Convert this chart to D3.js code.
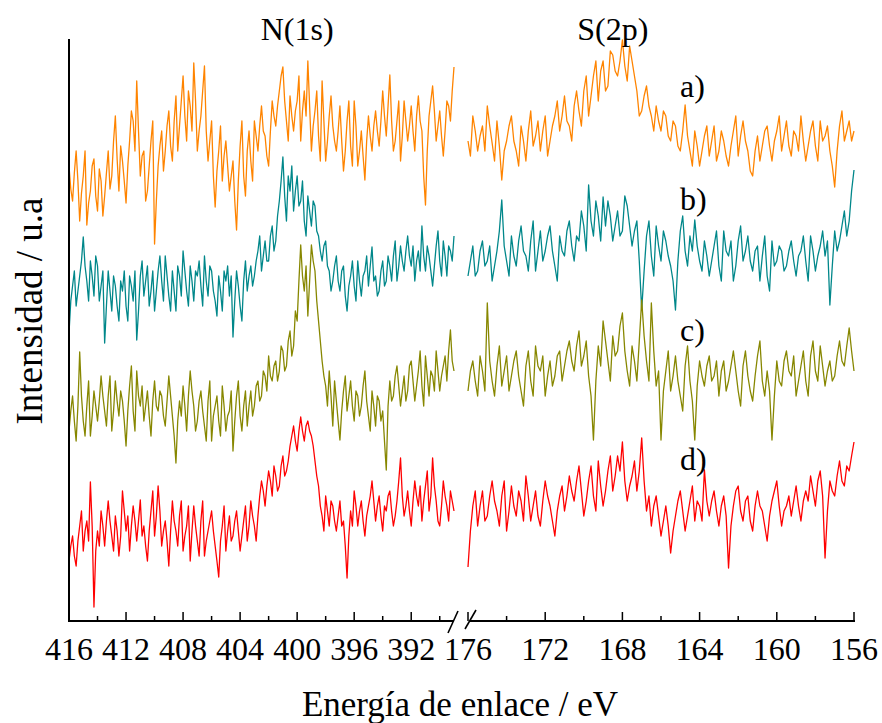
<!DOCTYPE html>
<html><head><meta charset="utf-8"><script src="https://cdn.jsdelivr.net/npm/d3@7"></script></head>
<body style="margin:0;background:#fff">
<svg id="chart" width="882" height="723" style="display:block"></svg>
<script>
// ---- energy ranges (eV) covered by the two panels ----
const leftRange = [416, 389];
const rightRange = [176, 156];

// ---- tick labels ----
const leftMajor = [416, 412, 408, 404, 400, 396, 392];
const leftMinor = [414, 410, 406, 402, 398, 394, 390];
const rightMajor = [176, 172, 168, 164, 160, 156];
const rightMinor = [174, 170, 166, 162, 158];

// ---- labels ----
const seriesLabels = ["a)", "b)", "c)", "d)"];
const peakLabels = ["N(1s)", "S(2p)"];

// ---- intensities (stacked, arbitrary units) : N(1s) region, 416 -> 389 eV ----
const aN = [455,432,420,448,470,440,400,428,445,470,396,418,430,455,462,425,410,452,440,405,
  425,448,470,432,445,480,505,462,430,475,460,440,418,455,480,510,500,470,540,490,445,465,470,420,
  430,455,480,500,377,420,455,475,490,450,470,495,510,475,460,500,525,470,495,520,545,505,480,530,
  515,490,558,520,470,490,505,530,555,490,460,480,500,445,414,450,470,495,440,465,480,455,430,445,
  460,420,391,440,475,500,445,425,470,490,460,440,500,485,470,495,515,490,485,465,455,490,520,505,
  495,515,530,545,554,520,500,480,525,505,490,510,520,545,480,510,530,505,560,515,470,495,510,530,
  485,460,540,500,460,480,505,525,495,480,470,490,515,480,450,470,500,520,475,455,520,495,455,470,
  490,465,441,480,505,485,470,495,510,490,475,500,530,505,485,515,546,500,470,480,500,520,460,485,
  520,500,480,495,515,490,470,505,525,500,490,445,416,470,505,520,535,510,480,495,510,485,465,490,
  520,515,500,530,554];
const bN = [288,320,335,350,315,330,345,360,384,355,340,320,360,345,325,365,355,320,335,350,278,315,
  350,330,310,345,335,315,300,340,330,350,315,300,345,335,320,350,281,310,345,360,325,340,355,315,
  330,350,310,330,350,365,340,320,365,345,325,310,350,330,310,355,345,325,370,350,330,315,355,340,
  320,350,345,360,335,315,365,340,325,355,350,330,320,305,345,330,310,350,340,355,325,345,284,320,
  350,335,315,300,340,360,330,345,355,335,345,360,370,385,350,365,380,360,360,385,395,370,380,405,
  420,440,464,425,400,445,430,455,410,430,445,415,420,440,400,385,425,410,395,420,415,390,385,370,
  360,375,380,355,350,330,340,355,365,340,330,350,355,325,310,335,345,360,335,320,360,340,325,345,
  350,365,335,355,374,340,345,325,330,350,360,335,340,365,355,340,365,380,340,355,375,360,350,370,
  385,365,355,375,340,360,370,350,395,365,350,375,365,350,335,355,375,390,360,345,380,365,345,375,
  370,360,385];
const cN = [190,210,225,200,180,215,269,225,200,185,215,240,185,205,230,215,200,220,245,225,210,195,
  225,245,190,210,240,220,205,230,220,200,175,210,235,255,210,190,250,225,215,235,200,215,230,205,
  185,220,240,215,210,230,225,205,195,220,245,225,205,185,158,200,220,205,235,215,190,225,250,230,
  215,190,200,220,230,210,195,180,220,240,180,205,215,225,200,185,235,215,190,205,210,230,170,200,
  225,240,205,190,215,230,195,215,230,205,215,235,240,220,225,250,245,230,265,245,240,255,260,240,
  250,275,270,250,255,280,290,265,275,310,300,340,376,345,330,355,305,340,376,360,350,320,300,280,
  260,245,235,215,250,225,195,240,220,200,181,210,230,245,210,225,240,215,200,230,225,205,215,235,
  250,220,205,190,230,215,195,225,220,200,210,180,151,215,240,220,225,245,255,235,215,230,245,220,
  230,255,260,240,220,235,250,270,235,215,265,245,225,250,245,230,270,250,230,245,255,265,240,270,
  291,260,250];
const dN = [60,75,85,65,55,80,95,110,70,90,100,80,139,95,14,70,90,75,110,95,75,100,120,100,85,70,
  105,90,65,85,130,110,90,105,70,95,115,100,80,100,121,85,95,75,60,90,110,130,85,105,135,110,75,90,
  100,80,55,90,120,100,90,75,105,120,70,85,95,115,60,90,115,95,80,65,100,120,65,80,90,100,110,90,
  75,60,44,80,95,115,70,90,105,80,85,100,110,90,70,85,100,115,80,95,120,105,95,80,105,125,140,130,
  115,135,150,140,125,155,145,130,135,155,165,145,150,160,175,185,195,180,170,190,204,190,180,195,
  200,190,185,175,160,145,135,115,105,90,125,110,95,120,115,100,90,105,120,95,100,75,43,85,110,95,
  130,115,95,110,120,100,85,105,115,125,140,120,100,115,125,105,90,115,110,125,130,110,95,105,120,
  140,163,125,105,115,130,110,95,120,140,125,115,135,100,120,135,150,110,125,163,135,120,100,95,115,
  140,125,115,100,130,120,110];

// ---- intensities : S(2p) region, 176 -> 156 eV ----
const aS = [480,465,505,490,470,485,495,470,515,495,478,460,500,475,441,470,480,495,505,480,470,455,
  495,480,460,490,510,475,485,500,470,490,505,465,480,495,505,520,490,505,525,500,495,480,515,530,
  510,495,530,545,505,525,545,560,520,550,560,530,535,570,566,550,545,560,581,555,540,575,560,545,
  530,505,510,525,535,515,505,490,515,500,490,510,505,485,480,500,495,475,470,490,516,485,470,455,
  490,475,455,470,485,495,465,480,495,460,470,490,480,465,455,475,490,505,465,485,500,480,470,450,
  445,470,485,460,475,490,495,475,460,480,490,505,470,485,500,475,465,490,485,470,505,480,460,475,
  490,500,475,460,500,480,485,495,470,455,434,470,495,510,480,490,500,480,490];
const bS = [345,360,375,345,350,370,380,355,360,375,340,355,370,390,421,375,360,345,385,365,355,380,
  395,370,365,350,380,400,350,370,390,360,370,385,395,370,355,340,385,370,365,390,400,375,360,385,
  380,410,395,370,436,400,385,420,405,380,424,395,420,405,380,395,410,385,390,425,415,395,375,390,
  400,360,311,350,385,400,365,345,395,375,360,390,380,365,355,340,311,360,390,405,370,355,385,370,
  401,375,360,350,380,365,345,360,375,390,355,340,390,370,365,380,340,355,380,395,360,370,385,360,
  350,370,375,340,365,385,345,330,380,355,360,375,370,350,355,370,380,360,345,365,370,385,360,340,
  385,370,350,365,375,390,365,380,316,355,390,370,380,395,410,385,400,430,451];
const cS = [230,250,260,240,225,265,250,230,318,260,240,225,255,275,235,250,265,230,245,260,270,245,
  230,215,255,270,240,225,275,255,250,265,225,245,260,235,245,265,270,240,255,270,280,260,250,275,
  290,255,265,280,245,225,181,240,275,255,300,280,260,240,285,265,270,295,308,270,250,235,275,260,
  240,280,321,285,260,240,318,270,235,250,181,230,250,270,230,245,265,240,225,210,255,275,240,220,
  181,235,260,245,235,255,265,240,245,260,225,250,260,230,240,255,270,250,230,215,255,270,245,230,
  220,245,265,280,240,225,250,230,181,225,260,240,235,260,270,250,245,265,225,240,255,270,240,225,
  265,280,250,240,275,255,235,250,260,240,245,265,280,260,255,275,293,270,250];
const dS = [54,90,115,130,95,115,130,100,105,125,140,120,110,95,125,140,90,110,135,115,105,130,120,
  100,145,125,100,115,130,105,95,120,140,125,115,100,85,110,125,135,110,125,145,130,120,140,155,130,
  105,120,140,155,125,110,160,135,115,130,150,165,130,145,165,150,179,140,120,135,145,160,130,150,
  183,140,110,125,95,115,125,105,85,100,115,95,68,90,105,120,130,110,90,105,120,135,100,120,115,100,
  151,120,105,120,130,110,95,115,125,105,53,95,115,130,135,110,100,120,125,100,90,115,130,115,110,95,
  80,105,120,130,140,115,95,110,115,125,105,120,135,115,100,120,130,120,145,130,115,140,150,125,63,
  110,140,130,125,145,160,140,135,155,150,165,179];

const colors = ["#FF8400", "#00878A", "#878700", "#FF0000"];

const seriesN = [aN, bN, cN, dN];
const seriesS = [aS, bS, cS, dS];
function grid(range, n) {
  const sc = d3.scaleLinear().domain([0, n - 1]).range(range);
  return d3.range(n).map(sc);
}

const svg = d3.select("#chart");

const yScale = d3.scaleLinear().domain([0, 582]).range([621, 39]);
const xL = d3.scaleLinear().domain(leftRange).range([69, 454]);
const xR = d3.scaleLinear().domain(rightRange).range([468, 854]);

const lineL = d3.line().x(d => xL(d[0])).y(d => yScale(d[1]));
const lineR = d3.line().x(d => xR(d[0])).y(d => yScale(d[1]));

const gData = svg.append("g");
seriesN.forEach((s, k) => {
  const E = grid(leftRange, s.length);
  gData.append("path")
    .datum(s.map((v, i) => [E[i], v]))
    .attr("d", lineL).attr("fill", "none")
    .attr("stroke", colors[k]).attr("stroke-width", 1.3)
    .attr("stroke-linejoin", "round");
});
seriesS.forEach((s, k) => {
  const E = grid(rightRange, s.length);
  gData.append("path")
    .datum(s.map((v, i) => [E[i], v]))
    .attr("d", lineR).attr("fill", "none")
    .attr("stroke", colors[k]).attr("stroke-width", 1.3)
    .attr("stroke-linejoin", "round");
});

// ---- axes ----
const axisY = 621;
const gAx = svg.append("g").attr("stroke", "#000").attr("stroke-width", 2);
gAx.append("line").attr("x1", 69).attr("x2", 69).attr("y1", 39).attr("y2", axisY + 1);
gAx.append("line").attr("x1", 68).attr("x2", 454).attr("y1", axisY).attr("y2", axisY);
gAx.append("line").attr("x1", 470).attr("x2", 855).attr("y1", axisY).attr("y2", axisY);
gAx.append("line").attr("x1", 448).attr("y1", 633).attr("x2", 458).attr("y2", 611).attr("stroke-width", 1.6);
gAx.append("line").attr("x1", 465).attr("y1", 629).attr("x2", 476).attr("y2", 610).attr("stroke-width", 1.6);

function addText(x, y, size, str, anchor) {
  return svg.append("text").attr("x", x).attr("y", y)
    .attr("text-anchor", anchor || "start")
    .attr("font-size", size)
    .style("font-family", '"Liberation Serif"')
    .text(str);
}

function ticks(scale, major, minor) {
  major.forEach(v => gAx.append("line").attr("x1", scale(v)).attr("x2", scale(v))
    .attr("y1", axisY).attr("y2", axisY - 9).attr("stroke-width", 1.5));
  minor.forEach(v => gAx.append("line").attr("x1", scale(v)).attr("x2", scale(v))
    .attr("y1", axisY).attr("y2", axisY - 5).attr("stroke-width", 1.5));
  major.forEach(v => addText(scale(v), 660, 32, String(v), "middle"));
}
ticks(xL, leftMajor, leftMinor);
ticks(xR, rightMajor, rightMinor);

// ---- titles ----
addText(460, 716, 35, "Energía de enlace / eV", "middle");
addText(0, 0, 37, "Intensidad / u.a", "middle").attr("transform", "translate(42,311) rotate(-90)");

// ---- annotations ----
addText(xL(400), 40, 32, peakLabels[0], "middle");
addText(xR(168.5), 40, 32, peakLabels[1], "middle");
const labelY = [97, 210, 341, 470];
seriesLabels.forEach((t, k) => addText(680, labelY[k], 32, t));
</script>
</body>
</html>
